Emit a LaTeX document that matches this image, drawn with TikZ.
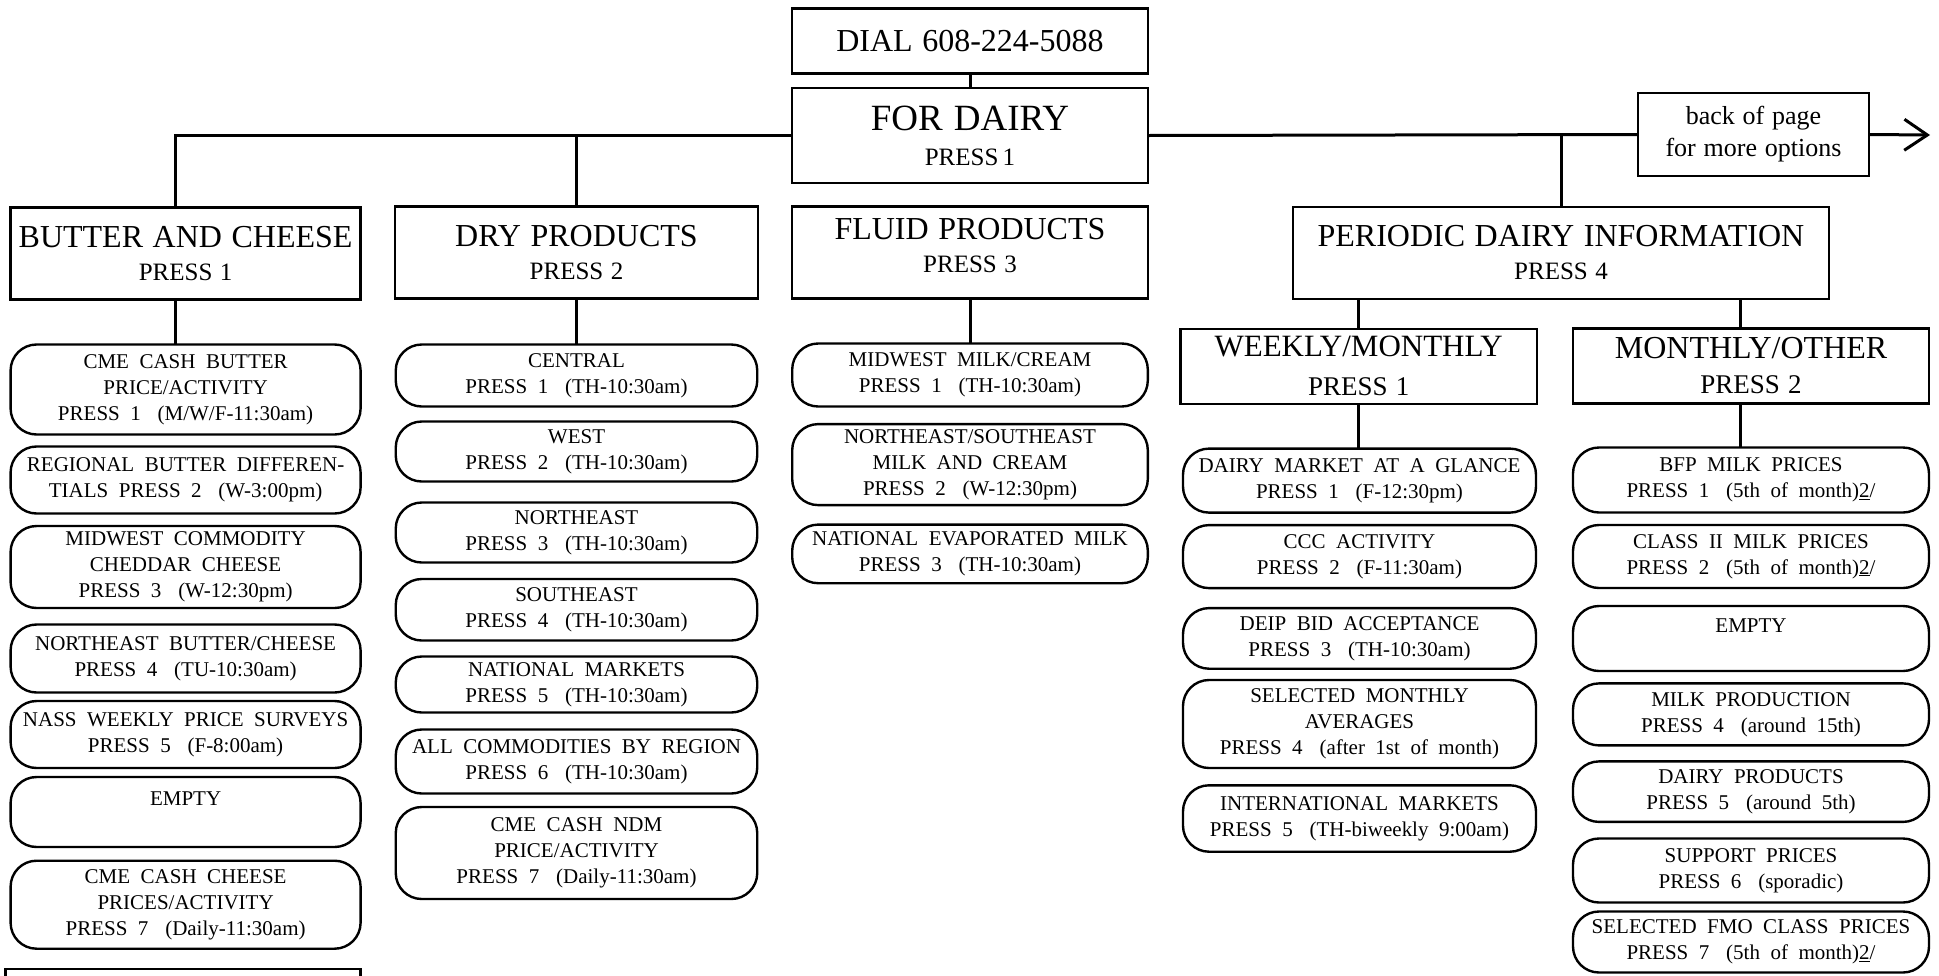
\documentclass[tikz,border=0pt]{standalone}
\usepackage{fontspec}
\setmainfont{Liberation Serif}[WordSpace=1.2]
\newfontfamily\itemfont{Liberation Serif}[WordSpace=2]
\usepackage{tikz}
\usetikzlibrary{positioning,arrows.meta}
\newcommand{\gp}{\hspace{0.8em}}

\begin{document}
\begin{tikzpicture}[x=1pt, y=-1pt, node distance=12pt,
    menu block/.style={rectangle, draw, line width=2.4pt, align=center, inner sep=2pt, outer sep=0pt},
    head block/.style={menu block, minimum height=92pt, font=\fontsize{25}{33}\selectfont},
    item block/.style={rectangle, draw, line width=2.4pt, rounded corners=26pt, align=center, inner xsep=1pt, inner ysep=2pt, outer sep=0pt, font=\itemfont\fontsize{21}{26}\selectfont},
    link/.style={line width=3pt}]

    \useasboundingbox (0,0) rectangle (1939,975);

    \node [menu block, minimum width=356pt, minimum height=65pt, font=\fontsize{32}{36}\selectfont] (dial) at (970,41) {DIAL 608-224-5088};
    \node [menu block, minimum width=356pt, minimum height=95pt, font=\fontsize{25}{35}\selectfont] (dairy) at (970,135.5) {{\fontsize{37}{35}\selectfont FOR DAIRY}\\PRESS\,1};
    \node [menu block, minimum width=231pt, minimum height=83pt, font=\fontsize{26}{32}\selectfont] (back) at (1753.5,134.5) {back of page\\for more options};
    \coordinate (more) at (1930,135);

    \node [head block, minimum width=350pt] (butter) at (185.6,253.5) {{\fontsize{32}{33}\selectfont BUTTER AND CHEESE}\\PRESS 1};
    \node [head block, minimum width=363pt] (dry) at (576.5,252.5) {{\fontsize{32}{33}\selectfont DRY PRODUCTS}\\PRESS 2};
    \node [head block, minimum width=356pt, text depth=14pt] (fluid) at (970,252.5) {{\fontsize{32}{33}\selectfont FLUID PRODUCTS}\\PRESS 3};
    \node [head block, minimum width=536pt] (periodic) at (1561,253) {{\fontsize{32}{33}\selectfont PERIODIC DAIRY INFORMATION}\\PRESS 4};

    \node [menu block, minimum width=356.5pt, minimum height=75pt, font=\fontsize{27}{39}\selectfont] (weekly) at (1358.7,366.3) {{\fontsize{31}{39}\selectfont WEEKLY/MONTHLY}\\PRESS 1};
    \node [menu block, minimum width=356pt, minimum height=75pt, font=\fontsize{27}{35}\selectfont] (monthly) at (1751,366) {{\fontsize{32}{35}\selectfont MONTHLY/OTHER}\\PRESS 2};

    % butter and cheese
    \node [item block, minimum width=350pt, minimum height=90pt, below=45pt of butter] (b1) {CME CASH BUTTER\\PRICE/ACTIVITY\\PRESS 1\gp(M/W/F-11:30am)};
    \node [item block, minimum width=350pt, minimum height=67pt, below=12pt of b1] (b2) {REGIONAL BUTTER DIFFEREN-\\TIALS PRESS 2\gp(W-3:00pm)};
    \node [item block, minimum width=350pt, minimum height=82pt, below=12.5pt of b2] (b3) {MIDWEST COMMODITY\\CHEDDAR CHEESE\\PRESS 3\gp(W-12:30pm)};
    \node [item block, minimum width=350pt, minimum height=68pt, below=16.5pt of b3] (b4) {NORTHEAST BUTTER/CHEESE\\PRESS 4\gp(TU-10:30am)};
    \node [item block, minimum width=350pt, minimum height=67pt, below=8.5pt of b4] (b5) {NASS WEEKLY PRICE SURVEYS\\PRESS 5\gp(F-8:00am)};
    \node [item block, minimum width=350pt, minimum height=70pt, below=9pt of b5] (b6) {EMPTY\\\mbox{}};
    \node [item block, minimum width=350pt, minimum height=88pt, below=13.7pt of b6] (b7) {CME CASH CHEESE\\PRICES/ACTIVITY\\PRESS 7\gp(Daily-11:30am)};
    \node [menu block, minimum width=355pt, minimum height=60pt, below=20pt of b7, xshift=-2.5pt] (b8) {};

    % dry products
    \node [item block, minimum width=361.5pt, minimum height=62pt, below=46pt of dry] (d1) {CENTRAL\\PRESS 1\gp(TH-10:30am)};
    \node [item block, minimum width=361.5pt, minimum height=60pt, below=15pt of d1] (d2) {WEST\\PRESS 2\gp(TH-10:30am)};
    \node [item block, minimum width=361.5pt, minimum height=60pt, below=21pt of d2] (d3) {NORTHEAST\\PRESS 3\gp(TH-10:30am)};
    \node [item block, minimum width=361.5pt, minimum height=61.5pt, below=16.5pt of d3] (d4) {SOUTHEAST\\PRESS 4\gp(TH-10:30am)};
    \node [item block, minimum width=361.5pt, minimum height=56pt, below=16pt of d4] (d5) {NATIONAL MARKETS\\PRESS 5\gp(TH-10:30am)};
    \node [item block, minimum width=361.5pt, minimum height=64pt, below=17pt of d5] (d6) {ALL COMMODITIES BY REGION\\PRESS 6\gp(TH-10:30am)};
    \node [item block, minimum width=361.5pt, minimum height=92pt, below=13.5pt of d6] (d7) {CME CASH NDM\\PRICE/ACTIVITY\\PRESS 7\gp(Daily-11:30am)};

    % fluid products
    \node [item block, minimum width=355.6pt, minimum height=63pt, below=45pt of fluid] (f1) {MIDWEST MILK/CREAM\\PRESS 1\gp(TH-10:30am)};
    \node [item block, minimum width=355.6pt, minimum height=81pt, below=17.6pt of f1] (f2) {NORTHEAST/SOUTHEAST\\MILK AND CREAM\\PRESS 2\gp(W-12:30pm)};
    \node [item block, minimum width=355.6pt, minimum height=58.6pt, below=19.5pt of f2] (f3) {NATIONAL EVAPORATED MILK\\PRESS 3\gp(TH-10:30am)};

    % weekly/monthly
    \node [item block, minimum width=353pt, minimum height=64pt, below=44.8pt of weekly, xshift=0.8pt] (w1) {DAIRY MARKET AT A GLANCE\\PRESS 1\gp(F-12:30pm)};
    \node [item block, minimum width=353pt, minimum height=63pt, below=12.5pt of w1] (w2) {CCC ACTIVITY\\PRESS 2\gp(F-11:30am)};
    \node [item block, minimum width=353pt, minimum height=60.6pt, below=20pt of w2] (w3) {DEIP BID ACCEPTANCE\\PRESS 3\gp(TH-10:30am)};
    \node [item block, minimum width=353pt, minimum height=88pt, below=11.3pt of w3] (w4) {SELECTED MONTHLY\\AVERAGES\\PRESS 4\gp(after 1st of month)};
    \node [item block, minimum width=353pt, minimum height=66.4pt, below=17.3pt of w4] (w5) {INTERNATIONAL MARKETS\\PRESS 5\gp(TH-biweekly 9:00am)};

    % monthly/other
    \node [item block, minimum width=356pt, minimum height=65pt, below=44pt of monthly] (m1) {BFP MILK PRICES\\PRESS 1\gp(5th of month)\underline{2}/};
    \node [item block, minimum width=356pt, minimum height=63pt, below=12.5pt of m1] (m2) {CLASS II MILK PRICES\\PRESS 2\gp(5th of month)\underline{2}/};
    \node [item block, minimum width=356pt, minimum height=65pt, below=18pt of m2] (m3) {EMPTY\\\mbox{}};
    \node [item block, minimum width=356pt, minimum height=62pt, below=12.4pt of m3] (m4) {MILK PRODUCTION\\PRESS 4\gp(around 15th)};
    \node [item block, minimum width=356pt, minimum height=60.5pt, below=16pt of m4] (m5) {DAIRY PRODUCTS\\PRESS 5\gp(around 5th)};
    \node [item block, minimum width=356pt, minimum height=64pt, below=16.6pt of m5] (m6) {SUPPORT PRICES\\PRESS 6\gp(sporadic)};
    \node [item block, minimum width=356pt, minimum height=61pt, below=9pt of m6] (m7) {SELECTED FMO CLASS PRICES\\PRESS 7\gp(5th of month)\underline{2}/};

    \draw [link] (dial) -- (dairy);
    \draw [link] (dairy.west) -| ([xshift=-10pt]butter.north);
    \draw [link] (dry.north) -- (dry.north |- dairy.west);
    \draw [link] (dairy.east) -- (back.west);
    \draw [link] (periodic.north) -- (periodic.north |- dairy.east);
    \draw [link, -{Straight Barb[length=23pt, width=31pt]}] (back.east) -- (more);

    \draw [link] ([xshift=-10pt]butter.south) -- ([xshift=-10pt]b1.north);
    \draw [link] (dry.south) -- (d1.north);
    \draw [link] (fluid.south) -- (f1.north);
    \draw [link] (weekly.north) -- (weekly.north |- periodic.south);
    \draw [link] ([xshift=-11pt]monthly.north) -- ([xshift=-11pt]monthly.north |- periodic.south);
    \draw [link] (weekly.south) -- (weekly.south |- w1.north);
    \draw [link] ([xshift=-11pt]monthly.south) -- ([xshift=-11pt]m1.north);

\end{tikzpicture}
\end{document}
